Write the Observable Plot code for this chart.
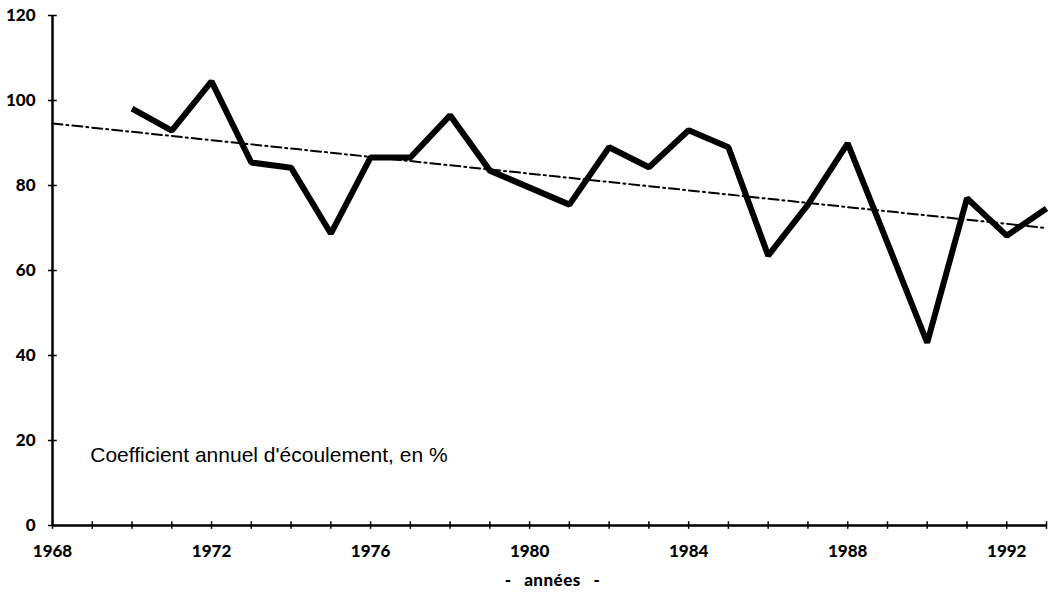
<!DOCTYPE html>
<html>
<head>
<meta charset="utf-8">
<script src="https://cdn.jsdelivr.net/npm/d3@7"></script>
<script src="https://cdn.jsdelivr.net/npm/@observablehq/plot@0.6"></script>
<style>
  html, body { margin: 0; padding: 0; background: #fff; }
  .xlab text { word-spacing: 8px; letter-spacing: 0.5px; }
</style>
</head>
<body>
<div id="chart"></div>
<script>
const years = [1970, 1971, 1972, 1973, 1974, 1975, 1976, 1977, 1978, 1979, 1980, 1981,
               1982, 1983, 1984, 1985, 1986, 1987, 1988, 1989, 1990, 1991, 1992, 1993];
const coefficient = [98.1, 92.9, 104.5, 85.4, 84.2, 68.7, 86.6, 86.6, 96.5, 83.5, 79.5, 75.5,
                     89.0, 84.3, 93.0, 89.0, 63.5, 75.5, 89.9, 66.5, 43.0, 77.0, 68.2, 74.6];
const trendYears = [1968, 1993];
const trendValues = [94.6, 70.0];
const xTickLabels = [1968, 1972, 1976, 1980, 1984, 1988, 1992];
const xMinorTicks = d3.range(1968, 1994);
const yTickLabels = [0, 20, 40, 60, 80, 100, 120];
const annotation = "Coefficient annuel d'écoulement, en %";
const xLabel = "- années -";

const series = years.map((y, i) => ({year: y, value: coefficient[i]}));
const trend = trendYears.map((y, i) => ({year: y, value: trendValues[i]}));

const chart = Plot.plot({
  width: 1059,
  height: 594,
  marginLeft: 52,
  marginRight: 13,
  marginTop: 15,
  marginBottom: 69,
  x: {domain: [1968, 1993]},
  y: {domain: [0, 120]},
  style: {fontFamily: "Lato, 'DejaVu Sans', sans-serif", color: "#000", background: "#fff"},
  marks: [
    Plot.axisX({ticks: xTickLabels, tickFormat: d => String(d), tickSize: 0, tickPadding: 19,
                label: null, fontSize: 17, fontWeight: 900}),
    Plot.axisY({ticks: yTickLabels, tickFormat: d => String(d), tickSize: 0, tickPadding: 17,
                label: null, fontSize: 17, fontWeight: 900}),
    Plot.ruleX(xMinorTicks, {x: d => d, y1: -0.9, y2: 0.9, stroke: "#000", strokeWidth: 1.5}),
    Plot.ruleY(yTickLabels, {y: d => d, x1: 1967.9, x2: 1968.12, stroke: "#000", strokeWidth: 1.5}),
    Plot.ruleY([0], {x1: 1968, x2: 1993, stroke: "#000", strokeWidth: 2.5}),
    Plot.ruleX([1968], {y1: 0, y2: 120, stroke: "#000", strokeWidth: 2.5}),
    Plot.line(trend, {x: "year", y: "value", stroke: "#000", strokeWidth: 2,
                      strokeDasharray: "10,4,2,4"}),
    Plot.line(series, {x: "year", y: "value", stroke: "#000", strokeWidth: 6,
                       strokeLinejoin: "miter", strokeLinecap: "butt"}),
    Plot.text([annotation], {x: 1968.95, y: 16.5, text: d => d, textAnchor: "start",
                             fontSize: 21, fontFamily: "'Liberation Sans', Arial, sans-serif", fill: "#000"}),
    Plot.text([xLabel], {frameAnchor: "bottom", dy: 60, dx: 3, text: d => d, fontSize: 17,
                         fontWeight: 900, fill: "#000", className: "xlab"})
  ]
});
document.getElementById("chart").appendChild(chart);
</script>
</body>
</html>
